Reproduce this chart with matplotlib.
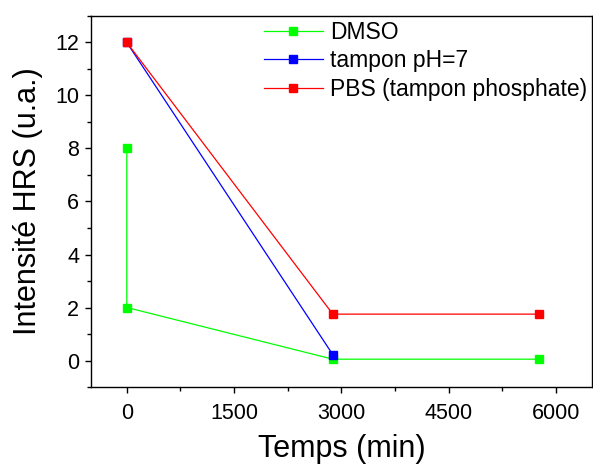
import matplotlib
matplotlib.use("Agg")
import matplotlib.pyplot as plt
from matplotlib.ticker import MultipleLocator

plt.rcParams['font.family'] = ['Liberation Sans', 'DejaVu Sans']

# data
dmso_t = [0, 0, 2880, 5760]
dmso_i = [8, 2, 0.05, 0.05]
tampon_t = [0, 2880]
tampon_i = [12, 0.22]
pbs_t = [0, 2880, 5760]
pbs_i = [12, 1.75, 1.75]

labels = ["DMSO", "tampon pH=7", "PBS (tampon phosphate)"]
colors = ["#00FF00", "#0000FF", "#FF0000"]

fig = plt.figure(figsize=(5.93, 4.66), dpi=100)
ax = fig.add_axes([0.1535, 0.1695, 0.998 - 0.1535, 0.9657 - 0.1695])

for t, i, lab, c in zip([dmso_t, tampon_t, pbs_t], [dmso_i, tampon_i, pbs_i], labels, colors):
    ax.plot(t, i, color=c, lw=0.9, marker='s', markersize=6, label=lab)

ax.set_xlim(-500, 6500)
ax.set_ylim(-1, 13)
ax.xaxis.set_major_locator(MultipleLocator(1500))
ax.xaxis.set_minor_locator(MultipleLocator(750))
ax.yaxis.set_major_locator(MultipleLocator(2))
ax.yaxis.set_minor_locator(MultipleLocator(1))
ax.tick_params(which='both', direction='out', top=False, right=False, labelsize=15.5, width=1)
ax.tick_params(which='major', length=4.5, pad=4)
ax.tick_params(axis='x', which='major', pad=7)
ax.tick_params(which='minor', length=3)
for s in ax.spines.values():
    s.set_linewidth(1)

ax.set_xlabel("Temps (min)", fontsize=22, labelpad=7.5)
ax.set_ylabel("Intensité HRS (u.a.)", fontsize=22, labelpad=9)

ax.legend(loc='upper right', frameon=False, fontsize=16.5, handlelength=2.6,
          handletextpad=0.3, labelspacing=0.25, borderaxespad=0.0,
          borderpad=0.2, bbox_to_anchor=(1.0, 1.0))

fig.savefig("out.png", dpi=100)
